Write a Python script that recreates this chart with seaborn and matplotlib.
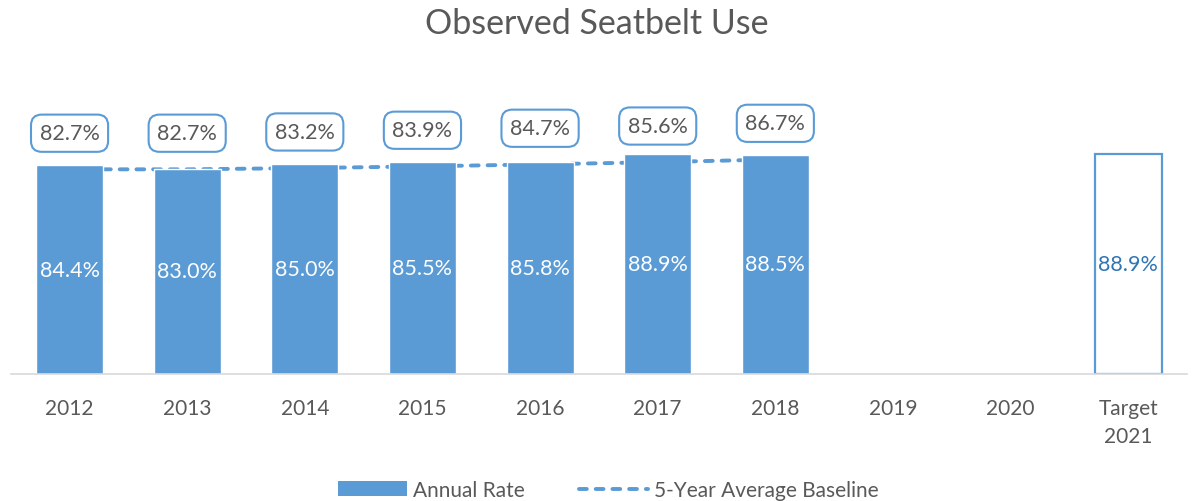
import pandas as pd
import matplotlib.pyplot as plt
import seaborn as sns
from matplotlib.patches import Patch
from matplotlib.lines import Line2D

categorias = ['2012', '2013', '2014', '2015', '2016', '2017', '2018', '2019', '2020', 'Target\n2021']
taxa_anual = [84.4, 83.0, 85.0, 85.5, 85.8, 88.9, 88.5, None, None, None]
meta = [None, None, None, None, None, None, None, None, None, 88.9]
media_5_anos = [82.7, 82.7, 83.2, 83.9, 84.7, 85.6, 86.7]

AZUL = '#5B9BD5'
CINZA = '#595959'
TRACO = (0, (2.0, 2.3))

sns.set_theme(style='white')
plt.rcParams['font.family'] = ['Lato', 'DejaVu Sans']

df = pd.DataFrame({'ano': categorias, 'taxa': taxa_anual, 'meta': meta})

fig = plt.figure(figsize=(11.93, 5.02), dpi=100)
ax = fig.add_axes([0.009, 0.253, 0.986, 0.493])

# linha da média (atrás das barras)
x_linha = list(range(len(media_5_anos)))
ax.plot(x_linha, media_5_anos, color=AZUL, lw=2.8, linestyle=TRACO,
        dash_capstyle='round', zorder=1)

sns.barplot(data=df, x='ano', y='taxa', color=AZUL, width=0.57, saturation=1,
            ax=ax, zorder=2, order=categorias)
sns.barplot(data=df, x='ano', y='meta', color='white', width=0.57, saturation=1,
            ax=ax, zorder=2, order=categorias, edgecolor=AZUL, linewidth=1.6)

# rótulos dentro das barras
for i, v in enumerate(taxa_anual):
    if v is not None:
        ax.text(i, v / 2, f'{v:.1f}%', ha='center', va='center', color='white', fontsize=15.5, zorder=3)
ax.text(9, meta[9] / 2, f'{meta[9]:.1f}%', ha='center', va='center', color='#2E75B6', fontsize=15.5, zorder=3)

# rótulos da média em caixas
for i, v in enumerate(media_5_anos):
    ax.annotate(f'{v:.1f}%', xy=(i, v), xytext=(0, 26), textcoords='offset points',
                ha='center', va='center', color=CINZA, fontsize=15.5, annotation_clip=False,
                bbox=dict(boxstyle='round,pad=0.4,rounding_size=0.5', fc='white', ec=AZUL, lw=1.5),
                zorder=4)

ax.set_ylim(0, 100)
ax.set_xlim(-0.5, 9.5)
ax.set_xlabel('')
ax.set_ylabel('')
ax.set_yticks([])
ax.tick_params(axis='x', colors=CINZA, labelsize=15, length=0, pad=17)
for rotulo in ax.get_xticklabels():
    rotulo.set_linespacing(1.55)
for lado in ['top', 'right', 'left']:
    ax.spines[lado].set_visible(False)
ax.spines['bottom'].set_color('#D9D9D9')
ax.spines['bottom'].set_linewidth(1.2)

fig.suptitle('Observed Seatbelt Use', x=0.5, y=0.985, va='top', fontsize=24.5, color=CINZA)

handles = [Patch(facecolor=AZUL, edgecolor='none'),
           Line2D([0], [0], color=AZUL, lw=2.8, linestyle=TRACO, dash_capstyle='round')]
fig.legend(handles, ['Annual Rate', '5-Year Average Baseline'], loc='lower center',
           bbox_to_anchor=(0.51, -0.035), ncol=2, frameon=False, fontsize=15,
           labelcolor=CINZA, handlelength=3.3, handleheight=0.7, handletextpad=0.3,
           columnspacing=2.6)

fig.savefig('out.png', dpi=100)
